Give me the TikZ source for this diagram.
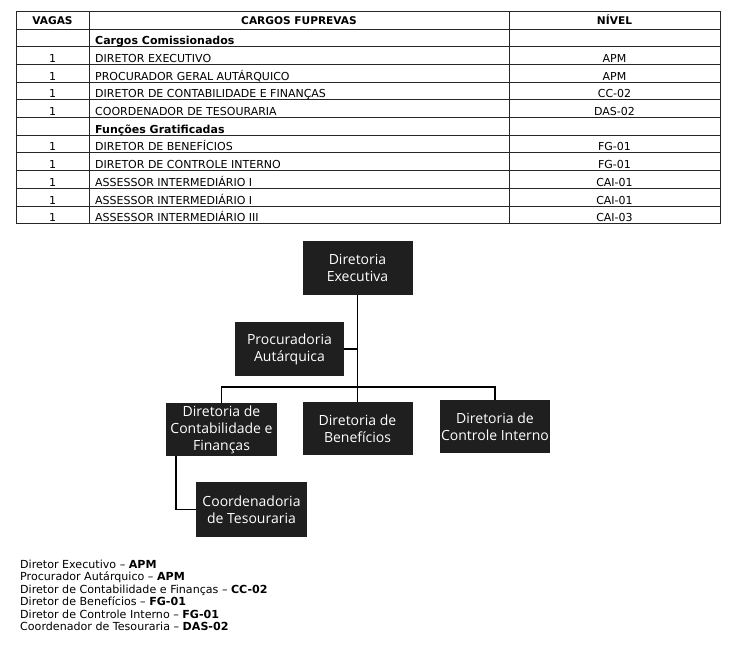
\documentclass[tikz,border=0pt]{standalone}
\usepackage{fontspec}
\setmainfont{DejaVu Sans}
\newfontfamily\boxfont{Open Sans}
\begin{document}
\begin{tikzpicture}[x=1pt,y=-1pt,
  cell/.style={inner sep=0pt, font=\fontsize{11}{12}\selectfont},
  cellL/.style={cell, anchor=base west},
  cellC/.style={cell, anchor=base},
  headc/.style={inner sep=0pt, anchor=base, font=\bfseries\fontsize{10.6}{12}\selectfont},
  orgbox/.style={fill=black!88, text=white, inner sep=0pt, align=center,
    font=\boxfont\fontsize{14}{17}\selectfont},
  link/.style={line width=1.6pt, black},
  gridline/.style={line width=0.9pt, black!85},
  leg/.style={inner sep=0pt, anchor=base west, font=\fontsize{11.1}{12}\selectfont}]
\useasboundingbox (0,0) rectangle (729,645);
\fill[white] (0,0) rectangle (729,645);

% ---------- table ----------
\draw[gridline] (16,11.5) rectangle (720,223.7);
\foreach \j in {0,...,10} \draw[gridline] (16,{29+17.7*\j}) -- (720,{29+17.7*\j});
\draw[gridline] (89,11.5) -- (89,223.7);
\draw[gridline] (509,11.5) -- (509,223.7);

\node[headc] (hv) at (52.5,24.3) {VAGAS};
\node[headc] (hc) at (299,24.3) {CARGOS FUPREVAS};
\node[headc] (hn) at (614.5,24.3) {NÍVEL};

\node[cellL, font=\bfseries\fontsize{11}{12}\selectfont] (c1) at (95,44.8) {Cargos Comissionados};

\node[cellC] (v2) at (52.5,62.4) {1};
\node[cellL] (c2) at (95,62.4) {DIRETOR EXECUTIVO};
\node[cellC] (n2) at (614.5,62.4) {APM};

\node[cellC] (v3) at (52.5,80.1) {1};
\node[cellL] (c3) at (95,80.1) {PROCURADOR GERAL AUTÁRQUICO};
\node[cellC] (n3) at (614.5,80.1) {APM};

\node[cellC] (v4) at (52.5,97.8) {1};
\node[cellL] (c4) at (95,97.8) {DIRETOR DE CONTABILIDADE E FINANÇAS};
\node[cellC] (n4) at (614.5,97.8) {CC-02};

\node[cellC] (v5) at (52.5,115.5) {1};
\node[cellL] (c5) at (95,115.5) {COORDENADOR DE TESOURARIA};
\node[cellC] (n5) at (614.5,115.5) {DAS-02};

\node[cellL, font=\bfseries\fontsize{11}{12}\selectfont] (c6) at (95,133.2) {Funções Gratificadas};

\node[cellC] (v7) at (52.5,150.9) {1};
\node[cellL] (c7) at (95,150.9) {DIRETOR DE BENEFÍCIOS};
\node[cellC] (n7) at (614.5,150.9) {FG-01};

\node[cellC] (v8) at (52.5,168.6) {1};
\node[cellL] (c8) at (95,168.6) {DIRETOR DE CONTROLE INTERNO};
\node[cellC] (n8) at (614.5,168.6) {FG-01};

\node[cellC] (v9) at (52.5,186.3) {1};
\node[cellL] (c9) at (95,186.3) {ASSESSOR INTERMEDIÁRIO I};
\node[cellC] (n9) at (614.5,186.3) {CAI-01};

\node[cellC] (v10) at (52.5,204.0) {1};
\node[cellL] (c10) at (95,204.0) {ASSESSOR INTERMEDIÁRIO I};
\node[cellC] (n10) at (614.5,204.0) {CAI-01};

\node[cellC] (v11) at (52.5,221.7) {1};
\node[cellL] (c11) at (95,221.7) {ASSESSOR INTERMEDIÁRIO III};
\node[cellC] (n11) at (614.5,221.7) {CAI-03};

% ---------- org chart ----------
\node[orgbox, minimum width=110, minimum height=54] (exec) at (357.5,268) {Diretoria\\Executiva};
\node[orgbox, minimum width=109, minimum height=54] (proc) at (289.5,349) {Procuradoria\\Autárquica};
\node[orgbox, minimum width=111, minimum height=53] (cont) at (221.5,429.5) {Diretoria de\\Contabilidade e\\Finanças};
\node[orgbox, minimum width=110, minimum height=53] (ben) at (357.5,428.5) {Diretoria de\\Benefícios};
\node[orgbox, minimum width=110, minimum height=53] (ctrl) at (495,426.5) {Diretoria de\\Controle Interno};
\node[orgbox, minimum width=111, minimum height=55] (coord) at (251.5,509.5) {Coordenadoria\\de Tesouraria};

\coordinate (bus) at (357.5,387);
\draw[link] (exec.south) -- (ben.north);
\draw[link] (cont.north) |- (bus) -| (ctrl.north);
\draw[link] (proc.east) -- (proc.east -| exec.south);
\draw[link] ([xshift=-45.5pt]cont.south) |- (coord.west);

% ---------- legend ----------
\node[leg] (l1) at (20,568.5) {Diretor Executivo – \textbf{APM}};
\node[leg] (l2) at (20,580.9) {Procurador Autárquico – \textbf{APM}};
\node[leg] (l3) at (20,593.3) {Diretor de Contabilidade e Finanças – \textbf{CC-02}};
\node[leg] (l4) at (20,605.7) {Diretor de Benefícios – \textbf{FG-01}};
\node[leg] (l5) at (20,618.1) {Diretor de Controle Interno – \textbf{FG-01}};
\node[leg] (l6) at (20,630.5) {Coordenador de Tesouraria – \textbf{DAS-02}};
\end{tikzpicture}
\end{document}
